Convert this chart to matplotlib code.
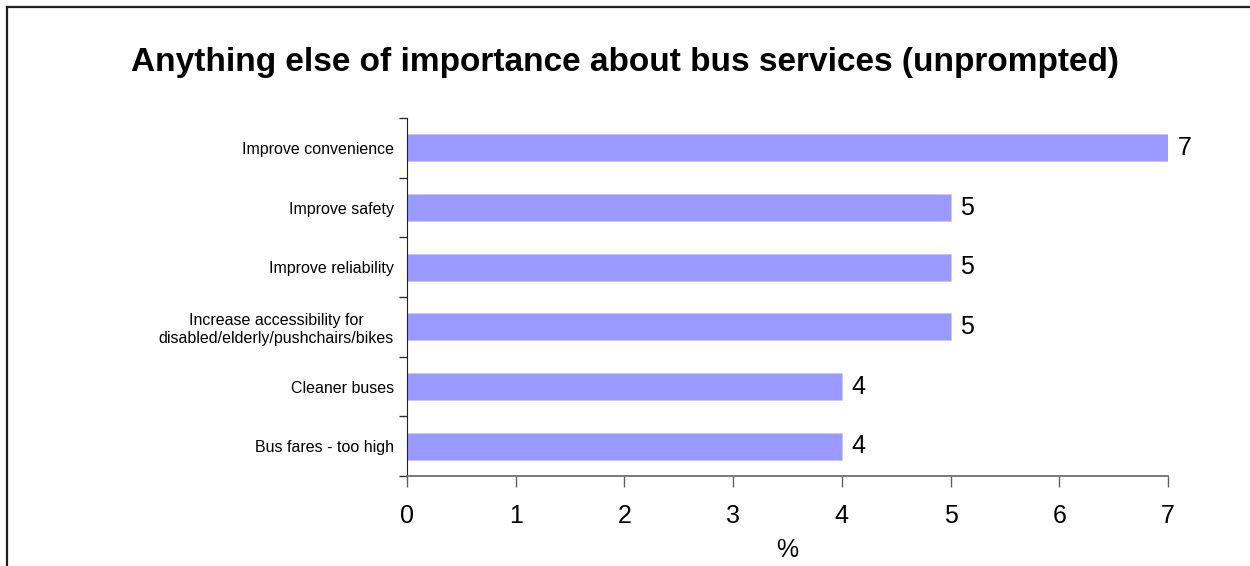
import matplotlib.pyplot as plt
from matplotlib.lines import Line2D

plt.rcParams['font.family'] = ['Liberation Sans', 'DejaVu Sans']

# Responses, top to bottom
categories = [
    "Improve convenience",
    "Improve safety",
    "Improve reliability",
    "Increase accessibility for\ndisabled/elderly/pushchairs/bikes",
    "Cleaner buses",
    "Bus fares - too high",
]
values = [7, 5, 5, 5, 4, 4]
xticks = [0, 1, 2, 3, 4, 5, 6, 7]

fig = plt.figure(figsize=(12.5, 5.66), dpi=100)

# frame lines along the left and top edges of the picture
fig.add_artist(Line2D([7 / 1250, 7 / 1250], [0, 1 - 7 / 566], transform=fig.transFigure,
                      color='#202020', lw=1.6))
fig.add_artist(Line2D([7 / 1250, 1], [1 - 7 / 566, 1 - 7 / 566], transform=fig.transFigure,
                      color='#202020', lw=1.6))

ax = fig.add_axes([0.3256, 0.159, 0.6088, 0.6325])

n = len(categories)
ypos = list(range(n))[::-1]
ax.barh(ypos, values, height=0.45, color='#9999FF', edgecolor='#C8C8FF', linewidth=0.6)

for y, v in zip(ypos, values):
    ax.text(v + 0.09, y, str(v), va='center', ha='left', fontsize=18)

ax.set_xlim(0, 7)
ax.set_ylim(-0.5, n - 0.5)
ax.set_xticks(xticks)
ax.set_xticklabels([str(t) for t in xticks], fontsize=18)
ax.tick_params(axis='x', direction='out', length=8, width=1, color='#606060', pad=12)

# category boundaries carry the ticks, labels sit at bar centres
ax.set_yticks([i - 0.5 for i in range(n + 1)])
ax.set_yticklabels([])
ax.set_yticks(ypos, minor=True)
ax.set_yticklabels(categories, minor=True, fontsize=11.5, ha='right', multialignment='center')
ax.tick_params(axis='y', which='major', direction='out', length=6, width=1, color='#303030')
ax.tick_params(axis='y', which='minor', length=0, pad=9.5)

for s in ['top', 'right']:
    ax.spines[s].set_visible(False)
ax.spines['left'].set_color('#202020')
ax.spines['bottom'].set_color('#707070')
ax.spines['bottom'].set_linewidth(1.3)

ax.set_xlabel('%', fontsize=18, labelpad=7)

fig.text(0.5, 1 - 62 / 566, 'Anything else of importance about bus services (unprompted)',
         ha='center', va='center', fontsize=24, fontweight='bold')

fig.savefig('out.png', dpi=100)
